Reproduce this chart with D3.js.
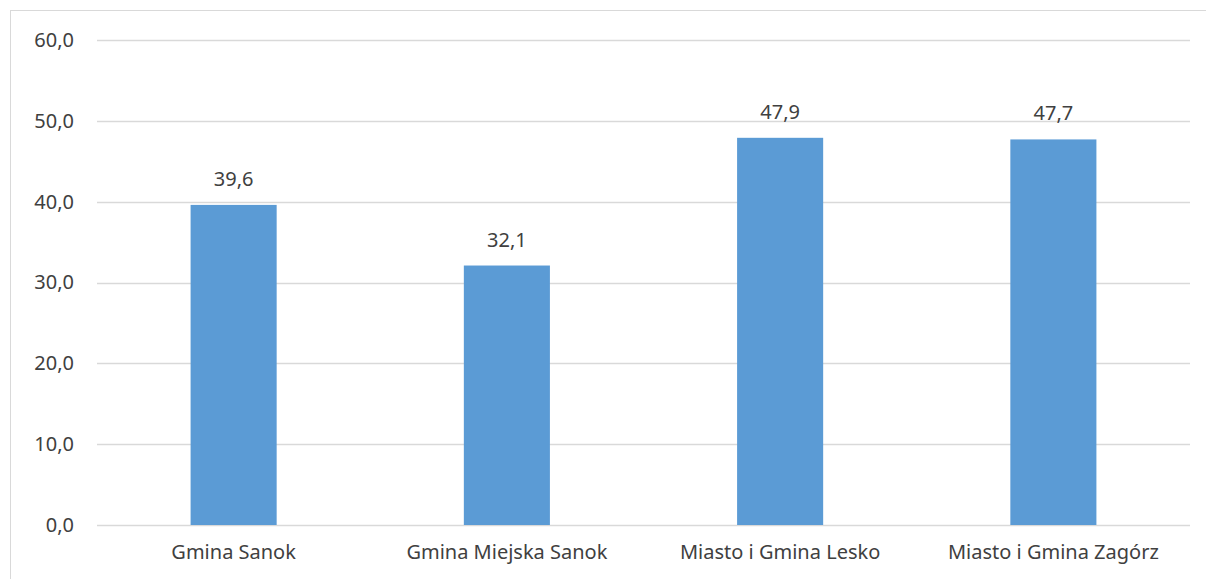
<!DOCTYPE html>
<html><head><meta charset="utf-8">
<script src="https://cdn.jsdelivr.net/npm/d3@7"></script>
<style>body{margin:0;background:#fff}svg{display:block}text{font-family:"Noto Sans","Open Sans",sans-serif;fill:#404040}</style>
</head><body><svg id="c" width="1206" height="579"></svg>
<script>
const categories = ["Gmina Sanok","Gmina Miejska Sanok","Miasto i Gmina Lesko","Miasto i Gmina Zagórz"];
const values = [39.6,32.1,47.9,47.7];
const yTicks = [0,10,20,30,40,50,60];
const fmt = v => v.toFixed(1).replace(".", ",");

const svg = d3.select("#c");
svg.append("rect").attr("x",10.5).attr("y",10.5).attr("width",1200).attr("height",580).attr("fill","#fff").attr("stroke","#d9d9d9").attr("stroke-width",1);
const m={l:97,r:1190,t:40,b:525};
const x=d3.scaleBand().domain(categories).range([m.l,m.r]).paddingInner(0.685).paddingOuter(0.3425);
const y=d3.scaleLinear().domain([0,60]).range([m.b,m.t]);

const g=svg.append("g");
g.selectAll("line.grid").data(yTicks).join("line").attr("class","grid")
 .attr("x1",m.l).attr("x2",m.r).attr("y1",d=>Math.round(y(d))+0.5).attr("y2",d=>Math.round(y(d))+0.5)
 .attr("stroke","#d9d9d9").attr("stroke-width",1.3);

const ya=d3.axisLeft(y).tickValues(yTicks).tickFormat(fmt).tickSize(0).tickPadding(0);
const yg=svg.append("g").attr("transform",`translate(74,0)`).call(ya);
yg.select(".domain").remove();
yg.selectAll("text").style("font-size","20px").attr("fill","#404040");

g.selectAll("rect.bar").data(values).join("rect").attr("class","bar")
 .attr("x",(d,i)=>x(categories[i])).attr("width",x.bandwidth())
 .attr("y",d=>y(d)).attr("height",d=>y(0)-y(d)).attr("fill","#5b9bd5");

g.selectAll("text.lbl").data(values).join("text").attr("class","lbl")
 .attr("x",(d,i)=>x(categories[i])+x.bandwidth()/2).attr("y",d=>y(d)-19)
 .attr("text-anchor","middle").style("font-size","20px").text(fmt);

const xa=d3.axisBottom(x).tickSize(0).tickPadding(20);
const xg=svg.append("g").attr("transform",`translate(0,${m.b})`).call(xa);
xg.select(".domain").remove();
xg.selectAll("text").style("font-size","20px").attr("fill","#404040");
</script></body></html>
